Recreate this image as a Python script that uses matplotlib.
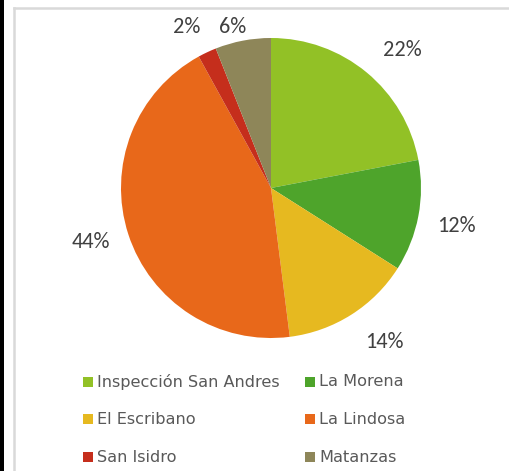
import matplotlib
matplotlib.use("Agg")
import matplotlib.pyplot as plt
import matplotlib.patches as mpatches
import numpy as np

categories = ["Inspección San Andres", "La Morena", "El Escribano", "La Lindosa", "San Isidro", "Matanzas"]
values = [22, 12, 14, 44, 2, 6]
colors = ["#92C126", "#4EA42B", "#E6B920", "#E8681A", "#C52E1C", "#8E8659"]
label_dist = [1.269, 1.259, 1.273, 1.253, 1.211, 1.103]
label_shift = [-3.9, -0.8, 3.9, -1.3, 2.35, 2.5]  # degrees

W, H = 510, 471
fig = plt.figure(figsize=(W / 100, H / 100), dpi=100)
fig.patch.set_facecolor("white")

# borders
fig.add_artist(mpatches.Rectangle((0, 0), 4 / W, 1, transform=fig.transFigure,
                                  facecolor="black", edgecolor="none"))
fig.add_artist(plt.Line2D([14 / W, 14 / W], [0, 1 - 8 / H], transform=fig.transFigure,
                          color="#D9D9D9", lw=1.8))
fig.add_artist(plt.Line2D([14 / W, 1], [1 - 8 / H, 1 - 8 / H], transform=fig.transFigure,
                          color="#D9D9D9", lw=1.8))

cx, cy, r = 271, 188, 150
ax = fig.add_axes([(cx - r) / W, (H - cy - r) / H, 2 * r / W, 2 * r / H])
wedges, _ = ax.pie(values, colors=colors, startangle=90, counterclock=False,
                   radius=1.0, wedgeprops=dict(linewidth=0))
ax.set_xlim(-1, 1)
ax.set_ylim(-1, 1)
ax.set_aspect("auto")
ax.axis("off")

total = sum(values)
for w, v, d, s in zip(wedges, values, label_dist, label_shift):
    ang = np.deg2rad((w.theta1 + w.theta2) / 2 + s)
    ax.text(d * np.cos(ang), d * np.sin(ang), f"{round(100 * v / total)}%",
            ha="center", va="center", fontsize=16, color="#404040",
            family="Carlito")

# legend (row-wise, two columns)
col_x = [83, 305]
row_y = [382, 419, 457]
for i, (cat, c) in enumerate(zip(categories, colors)):
    x = col_x[i % 2]
    y = row_y[i // 2]
    fig.add_artist(mpatches.Rectangle((x / W, 1 - (y + 5) / H), 10 / W, 10 / H,
                                      transform=fig.transFigure, facecolor=c,
                                      edgecolor="none"))
    fig.text((x + 14) / W, 1 - y / H, cat, ha="left", va="center",
             fontsize=11.6, color="#595959", family="DejaVu Sans")

fig.savefig("out.png", dpi=100)
